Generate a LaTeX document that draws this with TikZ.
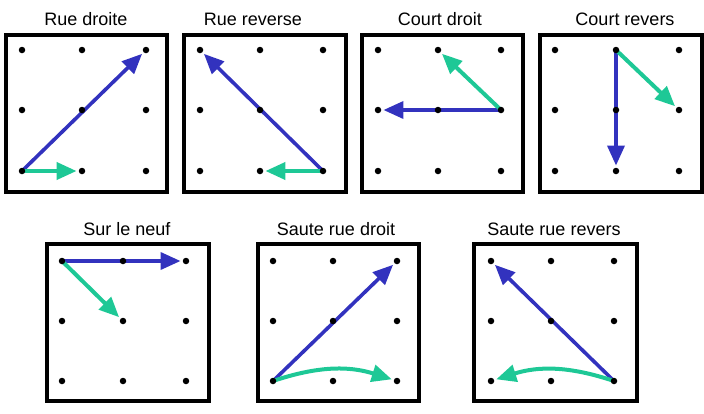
\documentclass[tikz,border=0pt]{standalone}
\usepackage{fontspec}
\setmainfont{Liberation Sans}
\usetikzlibrary{arrows.meta}
\definecolor{blu}{RGB}{50,50,190}
\definecolor{grn}{RGB}{30,200,150}
\pgfdeclarelayer{bg}
\pgfsetlayers{bg,main}
\begin{document}
\begin{tikzpicture}[x=1pt,y=-1pt,
  panelbox/.style={draw=black,line width=3.2pt},
  dot/.style={circle,fill=black,inner sep=0pt,minimum size=6.5pt},
  title/.style={font=\fontsize{18}{20}\selectfont},
  bl/.style={draw=blu,line width=3.6pt,shorten >=2pt,-{Triangle[length=20pt,width=17pt]}},
  gr/.style={draw=grn,line width=4pt,shorten >=2pt,-{Triangle[length=20pt,width=17pt]}}]
\useasboundingbox (0,0) rectangle (704,413);
% boxes
\draw[panelbox] (6,35) rectangle (167,192);
\draw[panelbox] (184,35) rectangle (346,192);
\draw[panelbox] (362,35) rectangle (523,192);
\draw[panelbox] (540,35) rectangle (702,192);
\draw[panelbox] (47,244) rectangle (209,401);
\draw[panelbox] (258,244) rectangle (419,401);
\draw[panelbox] (474,244) rectangle (637,401);
% titles
\node[title] (ta) at (86,19) {Rue droite};
\node[title] (tb) at (253,19) {Rue reverse};
\node[title] (tc) at (440,19) {Court droit};
\node[title] (td) at (625,19) {Court revers};
\node[title] (te) at (127,229) {Sur le neuf};
\node[title] (tf) at (336,229) {Saute rue droit};
\node[title] (tg) at (554,229) {Saute rue revers};
% dots
\foreach \i/\x in {0/22,1/82,2/146}{\foreach \j/\y in {0/50,1/110,2/171}{\node[dot] (a\i\j) at (\x,\y) {};}}
\foreach \i/\x in {0/200,1/260,2/323}{\foreach \j/\y in {0/50,1/110,2/171}{\node[dot] (b\i\j) at (\x,\y) {};}}
\foreach \i/\x in {0/378,1/438,2/501}{\foreach \j/\y in {0/50,1/110,2/171}{\node[dot] (c\i\j) at (\x,\y) {};}}
\foreach \i/\x in {0/555,1/616,2/679}{\foreach \j/\y in {0/50,1/110,2/171}{\node[dot] (d\i\j) at (\x,\y) {};}}
\foreach \i/\x in {0/62,1/123,2/186}{\foreach \j/\y in {0/261,1/321,2/381}{\node[dot] (e\i\j) at (\x,\y) {};}}
\foreach \i/\x in {0/273,1/333,2/397}{\foreach \j/\y in {0/261,1/321,2/381}{\node[dot] (f\i\j) at (\x,\y) {};}}
\foreach \i/\x in {0/491,1/551,2/614}{\foreach \j/\y in {0/261,1/321,2/381}{\node[dot] (g\i\j) at (\x,\y) {};}}
% arrows
\begin{pgfonlayer}{bg}
\draw[bl] (a02.center) -- (a20);
\draw[gr] (a02.center) -- (a12);
\draw[bl] (b22.center) -- (b00);
\draw[gr] (b22.center) -- (b12);
\draw[bl] (c21.center) -- (c01);
\draw[gr] (c21.center) -- (c10);
\draw[bl] (d10.center) -- (d12);
\draw[gr] (d10.center) -- (d21);
\draw[bl] (e00.center) -- (e20);
\draw[gr] (e00.center) -- (e11);
\draw[bl] (f02.center) -- (f20);
\draw[gr] (f02.center) to[bend left=18] (f22);
\draw[bl] (g22.center) -- (g00);
\draw[gr] (g22.center) to[bend right=18] (g02);
\end{pgfonlayer}
\end{tikzpicture}
\end{document}
